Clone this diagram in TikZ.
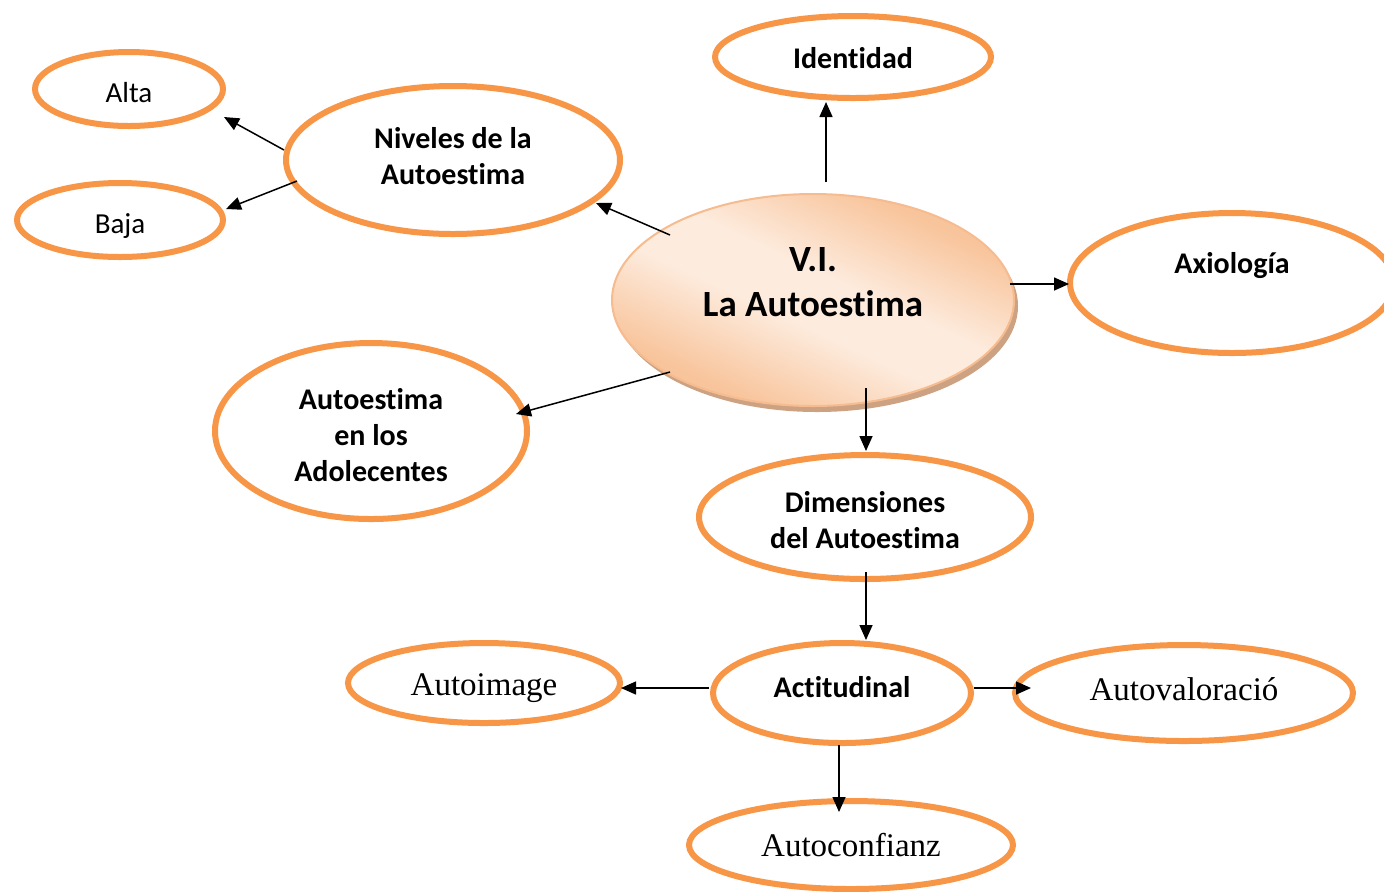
\documentclass[tikz,border=0pt]{standalone}
\usepackage{fontspec}
\setmainfont{Carlito}[Ligatures=NoCommon]
\newfontfamily\timesf{Liberation Serif}
\usetikzlibrary{shapes.geometric,arrows.meta}
\definecolor{orng}{HTML}{F79646}
\definecolor{peachdark}{HTML}{F8C49B}
\definecolor{peachlight}{HTML}{FDEBDD}
\definecolor{peachedge}{HTML}{F6BB8E}
\definecolor{shadowc}{HTML}{CCA283}
\pgfdeclareverticalshading{peachband}{100bp}{color(0bp)=(peachdark); color(28bp)=(peachdark); color(45bp)=(peachlight); color(55bp)=(peachlight); color(72bp)=(peachdark); color(100bp)=(peachdark)}
\newcommand{\shtxt}[2]{\raisebox{#1}[\height][\depth]{\begin{tabular}{@{}c@{}}#2\end{tabular}}}
\begin{document}
\begin{tikzpicture}[x=0.5pt,y=-0.5pt,
  oval/.style={ellipse,draw=orng,line width=3pt,fill=white,inner sep=0pt,align=center,text=black},
  bfont/.style={font=\fontsize{15}{18}\selectfont\bfseries},
  rfont/.style={font=\fontsize{14.5}{18}\selectfont},
  tfont/.style={font=\timesf\fontsize{16.5}{19}\selectfont},
  arr/.style={-{Triangle[length=7.5pt,width=6.5pt]},line width=0.75pt,draw=black}]
\useasboundingbox (0,0) rectangle (1384,891);
% central shadow and main ellipse
\fill[shadowc] (817,306) ellipse [x radius=201, y radius=106];
\node[ellipse,draw=peachedge,line width=1pt,shading=peachband,shading angle=-25,
  minimum width=201pt,minimum height=106pt,inner sep=0pt,align=center,
  font=\fontsize{18.5}{22.5}\selectfont\bfseries] (central) at (813,300)
  {\shtxt{7.5pt}{V.I.\\La Autoestima}};
% ellipses
\node[oval,bfont,minimum width=167pt,minimum height=74pt] (niveles) at (453,160) {\shtxt{0.5pt}{Niveles de la\\Autoestima}};
\node[oval,rfont,minimum width=94pt,minimum height=37pt] (alta) at (129,89) {\shtxt{-3pt}{Alta}};
\node[oval,rfont,minimum width=103pt,minimum height=37pt] (baja) at (120,220) {\shtxt{-3pt}{Baja}};
\node[oval,bfont,minimum width=138pt,minimum height=41pt] (identidad) at (853,57) {\shtxt{-2pt}{Identidad}};
\node[oval,bfont,minimum width=162pt,minimum height=70pt] (axiologia) at (1232,283) {\shtxt{8.5pt}{Axiología}};
\node[oval,bfont,minimum width=156pt,minimum height=88pt] (adolecentes) at (371,431) {\shtxt{-3.5pt}{Autoestima\\en los\\Adolecentes}};
\node[oval,bfont,minimum width=166pt,minimum height=62pt] (dimensiones) at (865,517) {\shtxt{-3pt}{Dimensiones\\del Autoestima}};
\node[oval,bfont,minimum width=129pt,minimum height=50pt] (actitudinal) at (842,693) {\shtxt{1.5pt}{Actitudinal}};
\node[oval,tfont,minimum width=136pt,minimum height=40pt] (autoimage) at (484,683) {\shtxt{-2.5pt}{Autoimage}};
\node[oval,tfont,minimum width=169pt,minimum height=48pt] (autovaloracion) at (1184,693) {\shtxt{0pt}{Autovaloració}};
\node[oval,tfont,minimum width=162pt,minimum height=44pt] (autoconfianz) at (851,845) {\shtxt{-2pt}{Autoconfianz}};
% connectors
\draw[arr] ([shift={(-143,-65)}]central.center) -- ([shift={(143,43)}]niveles.center);
\draw[arr] ([shift={(-169,-10)}]niveles.center) -- ([shift={(95,28)}]alta.center);
\draw[arr] ([shift={(-156,21)}]niveles.center) -- ([shift={(106,-11)}]baja.center);
\draw[arr] ([shift={(13,-118)}]central.center) -- ([shift={(-27,45)}]identidad.center);
\draw[arr] ([shift={(197,-16)}]central.center) -- ([shift={(-163,1)}]axiologia.center);
\draw[arr] ([shift={(-143,72)}]central.center) -- ([shift={(145,-17)}]adolecentes.center);
\draw[arr] ([shift={(53,88)}]central.center) -- ([shift={(1,-66)}]dimensiones.center);
\draw[arr] ([shift={(1,55)}]dimensiones.center) -- ([shift={(24,-53)}]actitudinal.center);
\draw[arr] ([shift={(-133,-5)}]actitudinal.center) -- ([shift={(137,5)}]autoimage.center);
\draw[arr] ([shift={(132,-5)}]actitudinal.center) -- ([shift={(-153,-5)}]autovaloracion.center);
\draw[arr] ([shift={(-3,52)}]actitudinal.center) -- ([shift={(-12,-33)}]autoconfianz.center);
\end{tikzpicture}
\end{document}
